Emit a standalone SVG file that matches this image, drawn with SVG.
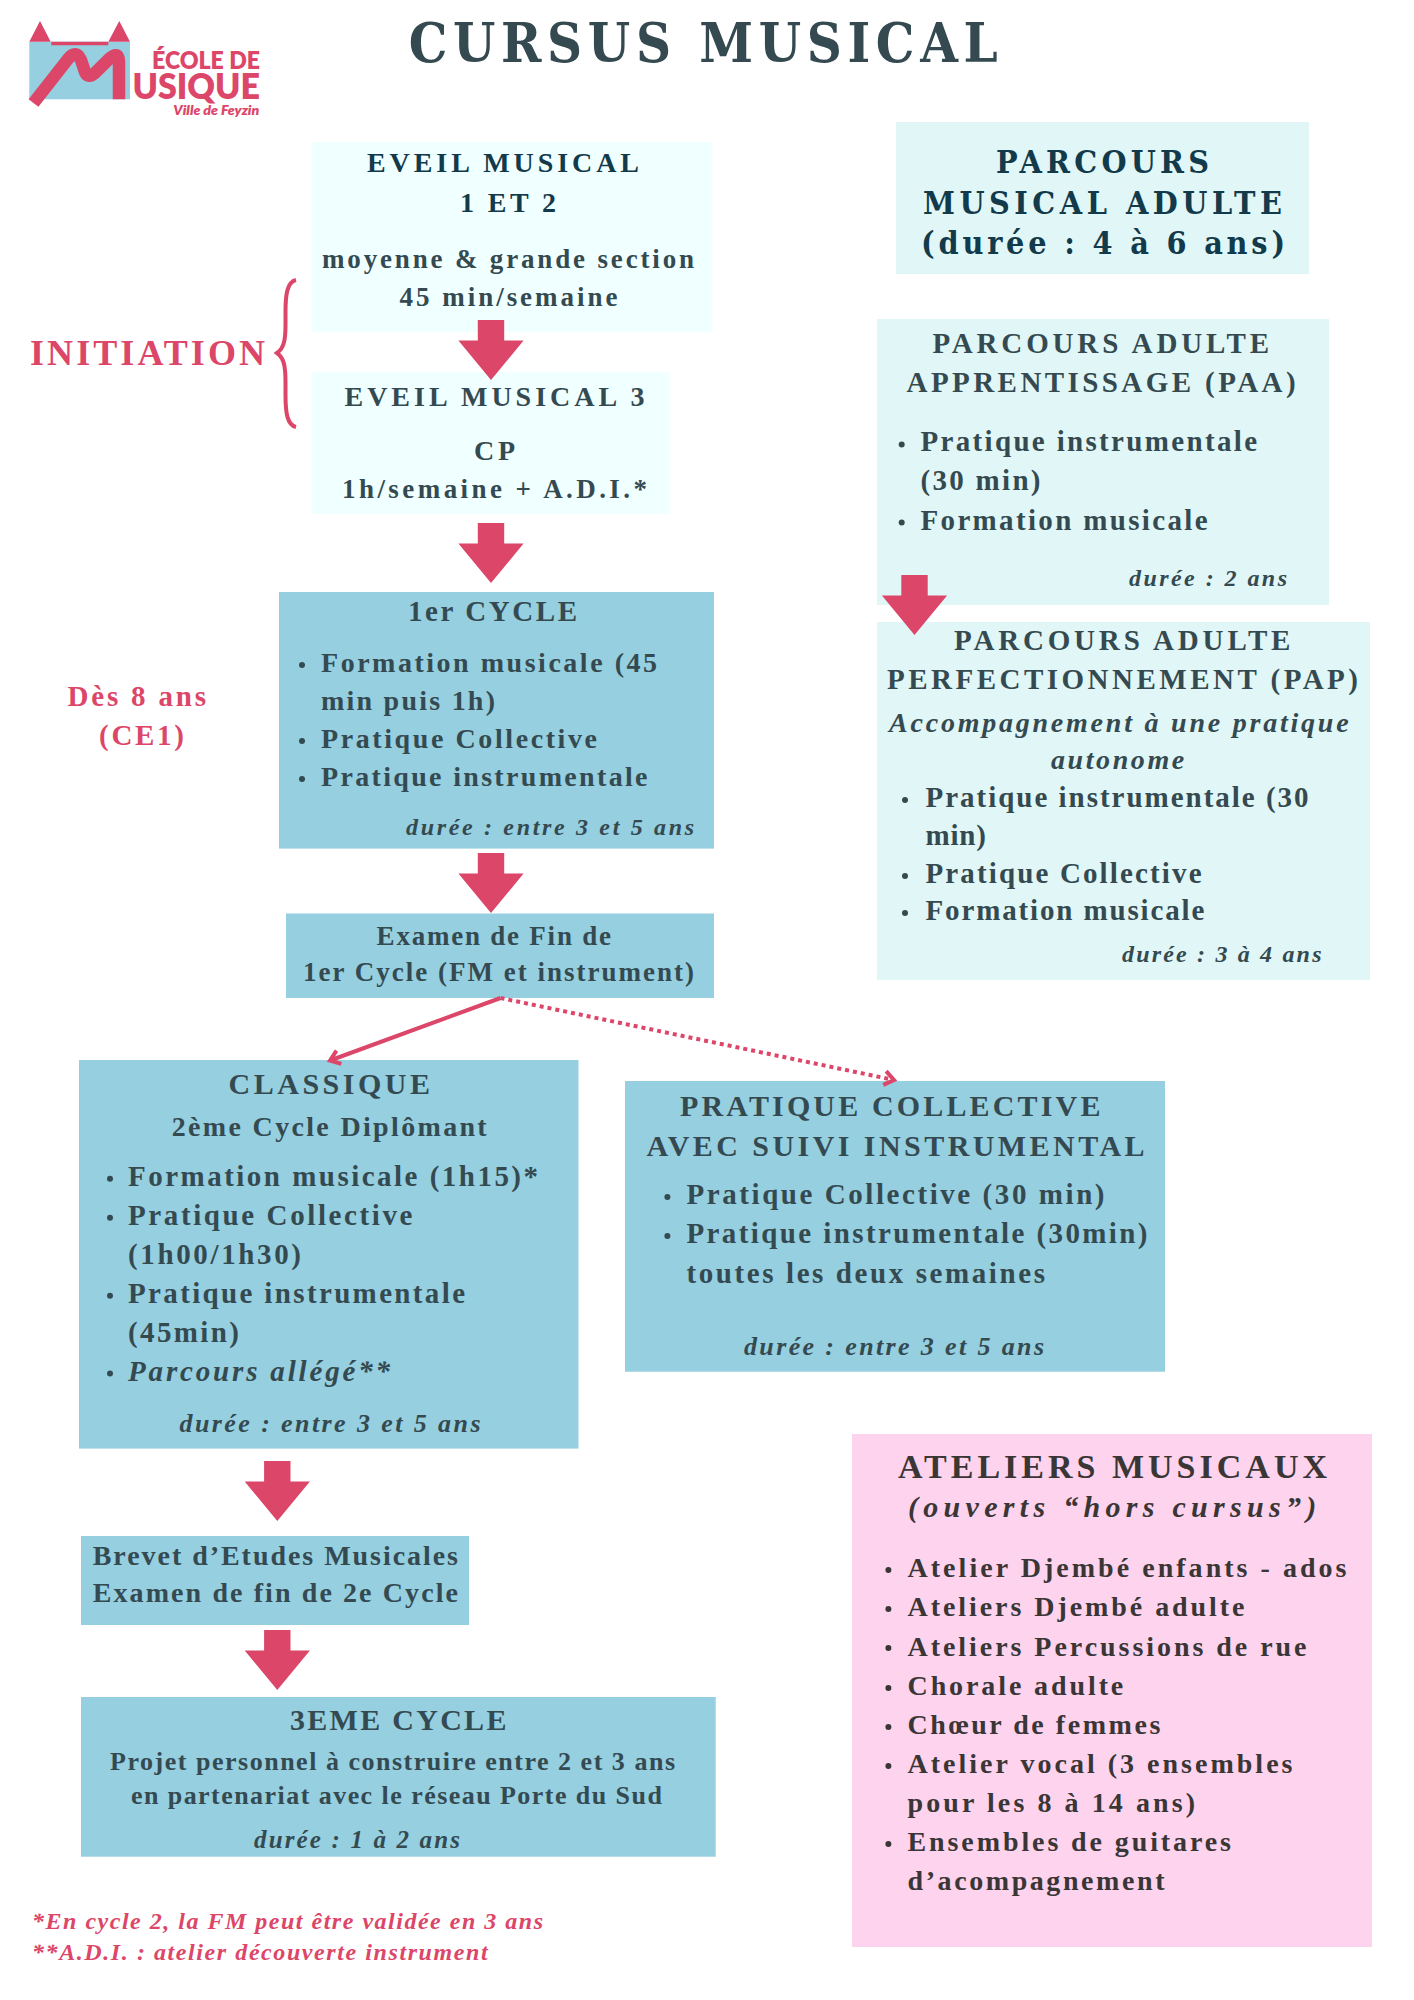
<svg xmlns="http://www.w3.org/2000/svg" width="1414" height="2000" viewBox="0 0 1414 2000">
<style>
text{font-family:"Liberation Serif","Times New Roman",serif;font-weight:700;fill:#344a50}
.noto{font-family:"DejaVu Serif Condensed","DejaVu Serif",serif}
.logo{font-family:"Lato","Open Sans",sans-serif;fill:#dc4668;font-weight:800}
.i{font-style:italic}
.pk{fill:#dc4668}
.dk{fill:#123a4b}
.gr{fill:#3a3636}
.s23{font-size:23px}.s24{font-size:24px}.s25{font-size:25px}.s26{font-size:26px}.s27{font-size:27px}.s28{font-size:28px}.s29{font-size:29px}.s30{font-size:30px}.s34{font-size:34px}
.blue{fill:#95cfe0}.pale{fill:#f0ffff}.mint{fill:#e1f6f6}.rose{fill:#fdd3ee}
.b{fill:#344a50}
.b2{fill:#3a3636}
.big{fill:#dc4668}
.ln{fill:none;stroke:#dc4668;stroke-width:4}
.tip{fill:none;stroke:#dc4668;stroke-width:4}
</style>
<defs>
<path id="bigArrow" d="M-13.2 0H13.2V20.6H32.6L0 60L-32.6 20.6H-13.2Z"/>
<marker id="openTip" markerUnits="userSpaceOnUse" markerWidth="24" markerHeight="24" refX="12" refY="12" orient="auto" overflow="visible">
<path class="tip" d="M2.5 5L12 12L2.5 19"/>
</marker>
</defs>
<rect width="1414" height="2000" fill="#fff"/>

<g id="logo">
<rect x="29.3" y="41.7" width="100.7" height="57.6" class="blue"/>
<path class="big" d="M29.3 41.7L40 21L50.7 41.7ZM108.3 41.7L119.3 21L130 41.7ZM51.3 41.7H108.3V45.3H51.3Z"/>
<path d="M33.5 103L68 59Q76 49 81 60L85 72Q88 79 95 73L109 59Q119 50 119 62V99.3" fill="none" stroke="#dc4668" stroke-width="12.5"/>
<text class="logo" x="152" y="69.3" font-size="24" textLength="108" lengthAdjust="spacingAndGlyphs">ÉCOLE DE</text>
<text class="logo" x="132.500" y="99.3" font-size="36" textLength="127.500" lengthAdjust="spacingAndGlyphs">USIQUE</text>
<text class="logo i" x="173.3" y="115" font-size="12.5" textLength="86" lengthAdjust="spacingAndGlyphs">Ville de Feyzin</text>
</g>

<g id="title"><text class="noto" x="408.7" y="62" font-size="54" textLength="589">CURSUS MUSICAL</text></g>

<g id="eveil-1-2">
<rect x="311.500" y="142" width="401" height="190" class="pale"/>
<text class="s28 dk" x="367" y="172" textLength="272">EVEIL MUSICAL</text>
<text class="s28 dk" x="460" y="211.5" textLength="96">1 ET 2</text>
<text class="s27" x="322" y="268" textLength="372">moyenne &amp; grande section</text>
<text class="s27" x="399.500" y="306" textLength="218">45 min/semaine</text>
</g>

<g id="eveil-3">
<rect x="311.500" y="372" width="358" height="142" class="pale"/>
<text class="s28" x="344.5" y="405.6" textLength="300">EVEIL MUSICAL 3</text>
<text class="s28" x="474" y="460" textLength="41">CP</text>
<text class="s27" x="342" y="497.6" textLength="305">1h/semaine + A.D.I.*</text>
</g>

<g id="initiation">
<text class="pk" font-size="36" x="30" y="365" textLength="235">INITIATION</text>
<path class="ln" d="M296 280C287 282 285.500 295 285.500 312V325C285.500 340 284 348 277 353C284 358 285.500 366 285.500 382V395C285.500 412 287 425 296 427"/>
</g>

<g id="des-8-ans">
<text class="pk s29" x="67.5" y="706" textLength="138.500">Dès 8 ans</text>
<text class="pk s29" x="99" y="745" textLength="85">(CE1)</text>
</g>

<g id="cycle-1">
<rect x="279" y="592" width="435" height="256.600" class="blue"/>
<text class="s29" x="408" y="620.7" textLength="169">1er CYCLE</text>
<circle class="b" cx="302" cy="665" r="3"/><text class="s28" x="321" y="672" textLength="336">Formation musicale (45</text>
<text class="s28" x="321" y="709.700" textLength="174">min puis 1h)</text>
<circle class="b" cx="302" cy="741" r="3"/><text class="s28" x="321" y="748" textLength="276">Pratique Collective</text>
<circle class="b" cx="302" cy="779" r="3"/><text class="s28" x="321" y="786" textLength="326.500">Pratique instrumentale</text>
<text class="s24 i" x="406" y="835" textLength="288">durée : entre 3 et 5 ans</text>
</g>

<g id="examen-1">
<rect x="286" y="913.500" width="428" height="84.500" class="blue"/>
<text class="s27" x="376.600" y="944.600" textLength="234.400">Examen de Fin de</text>
<text class="s27" x="303" y="981" textLength="391">1er Cycle (FM et instrument)</text>
</g>

<g id="classique">
<rect x="79" y="1060" width="499.500" height="388.600" class="blue"/>
<text class="s30" x="228.600" y="1093.600" textLength="201.400">CLASSIQUE</text>
<text class="s28" x="171.700" y="1135.600" textLength="315">2ème Cycle Diplômant</text>
<circle class="b" cx="110" cy="1178.700" r="3"/><text class="s29" x="128" y="1185.500" textLength="410">Formation musicale (1h15)*</text>
<circle class="b" cx="110" cy="1217.700" r="3"/><text class="s29" x="128" y="1225" textLength="284.400">Pratique Collective</text>
<text class="s29" x="128" y="1263.700" textLength="173">(1h00/1h30)</text>
<circle class="b" cx="110" cy="1295.700" r="3"/><text class="s29" x="128" y="1302.600" textLength="337">Pratique instrumentale</text>
<text class="s29" x="128" y="1341.500" textLength="111">(45min)</text>
<circle class="b" cx="110" cy="1373.500" r="3"/><text class="s29 i" x="128" y="1380.800" textLength="262">Parcours allégé**</text>
<text class="s26 i" x="179.500" y="1431.800" textLength="301">durée : entre 3 et 5 ans</text>
</g>

<g id="pratique-collective">
<rect x="625" y="1081" width="540" height="290.700" class="blue"/>
<text class="s30" x="680" y="1116" textLength="420.400">PRATIQUE COLLECTIVE</text>
<text class="s30" x="646.500" y="1156" textLength="498">AVEC SUIVI INSTRUMENTAL</text>
<circle class="b" cx="667.400" cy="1197" r="3"/><text class="s29" x="686.500" y="1204" textLength="418">Pratique Collective (30 min)</text>
<circle class="b" cx="667.400" cy="1236" r="3"/><text class="s29" x="686.500" y="1243" textLength="461">Pratique instrumentale (30min)</text>
<text class="s29" x="686.500" y="1283" textLength="358.500">toutes les deux semaines</text>
<text class="s26 i" x="744" y="1355" textLength="300">durée : entre 3 et 5 ans</text>
</g>

<g id="brevet">
<rect x="81" y="1536" width="388" height="89" class="blue"/>
<text class="s28" x="92.700" y="1565" textLength="365.300">Brevet d’Etudes Musicales</text>
<text class="s28" x="92.700" y="1601.700" textLength="365.300">Examen de fin de 2e Cycle</text>
</g>

<g id="cycle-3">
<rect x="81" y="1697" width="634.700" height="159.700" class="blue"/>
<text class="s30" x="290" y="1730" textLength="216.400">3EME CYCLE</text>
<text class="s26" x="110" y="1770" textLength="565">Projet personnel à construire entre 2 et 3 ans</text>
<text class="s26" x="130.900" y="1804" textLength="531">en partenariat avec le réseau Porte du Sud</text>
<text class="s25 i" x="254" y="1848.300" textLength="206">durée : 1 à 2 ans</text>
</g>

<g id="notes">
<text class="s24 i pk" x="32" y="1929" textLength="511">*En cycle 2, la FM peut être validée en 3 ans</text>
<text class="s24 i pk" x="32" y="1960" textLength="455.600">**A.D.I. : atelier découverte instrument</text>
</g>

<g id="parcours-adulte">
<rect x="896" y="122" width="413" height="152" class="mint"/>
<text class="noto dk" font-size="32" x="996" y="173" textLength="213">PARCOURS</text>
<text class="noto dk" font-size="32" x="923" y="213.600" textLength="359">MUSICAL ADULTE</text>
<text class="noto dk" font-size="32" x="921" y="253.600" textLength="364">(durée : 4 à 6 ans)</text>
</g>

<g id="paa">
<rect x="877" y="319" width="452" height="286" class="mint"/>
<text class="s29" x="932.400" y="352.500" textLength="336.600">PARCOURS ADULTE</text>
<text class="s29" x="906.600" y="392" textLength="389">APPRENTISSAGE (PAA)</text>
<circle class="b" cx="901.700" cy="444.600" r="3"/><text class="s29" x="920.500" y="451" textLength="336.500">Pratique instrumentale</text>
<text class="s29" x="920.500" y="490" textLength="120">(30 min)</text>
<circle class="b" cx="901.700" cy="522.500" r="3"/><text class="s29" x="920.500" y="530" textLength="287">Formation musicale</text>
<text class="s24 i" x="1129" y="585.700" textLength="158">durée : 2 ans</text>
</g>

<g id="pap">
<rect x="877" y="622" width="493" height="358" class="mint"/>
<text class="s29" x="954" y="650" textLength="336.400">PARCOURS ADULTE</text>
<text class="s29" x="887" y="689" textLength="471">PERFECTIONNEMENT (PAP)</text>
<text class="s28 i" x="889" y="732" textLength="459.600">Accompagnement à une pratique</text>
<text class="s28 i" x="1051" y="769" textLength="133.200">autonome</text>
<circle class="b" cx="905" cy="800" r="3"/><text class="s29" x="925.500" y="807.300" textLength="383">Pratique instrumentale (30</text>
<text class="s29" x="925.500" y="845" textLength="60.400">min)</text>
<circle class="b" cx="905" cy="876" r="3"/><text class="s29" x="925.500" y="883.300" textLength="276">Pratique Collective</text>
<circle class="b" cx="905" cy="913" r="3"/><text class="s29" x="925.500" y="920" textLength="278.800">Formation musicale</text>
<text class="s24 i" x="1122" y="962" textLength="199.500">durée : 3 à 4 ans</text>
</g>

<g id="ateliers">
<rect x="852" y="1434" width="520" height="513" class="rose"/>
<text class="s34 gr" x="898" y="1478" textLength="429">ATELIERS MUSICAUX</text>
<text class="s30 i gr" x="908" y="1517" textLength="408.200">(ouverts “hors cursus”)</text>
<circle class="b2" cx="888.400" cy="1570" r="3"/><text class="s28 gr" x="907.500" y="1577" textLength="439">Atelier Djembé enfants - ados</text>
<circle class="b2" cx="888.400" cy="1609" r="3"/><text class="s28 gr" x="907.500" y="1616" textLength="337">Ateliers Djembé adulte</text>
<circle class="b2" cx="888.400" cy="1648" r="3"/><text class="s28 gr" x="907.500" y="1655.500" textLength="399">Ateliers Percussions de rue</text>
<circle class="b2" cx="888.400" cy="1688" r="3"/><text class="s28 gr" x="907.500" y="1694.500" textLength="215.800">Chorale adulte</text>
<circle class="b2" cx="888.400" cy="1727" r="3"/><text class="s28 gr" x="907.500" y="1734" textLength="252.800">Chœur de femmes</text>
<circle class="b2" cx="888.400" cy="1766" r="3"/><text class="s28 gr" x="907.500" y="1773" textLength="385">Atelier vocal (3 ensembles</text>
<text class="s28 gr" x="907.500" y="1812" textLength="287.600">pour les 8 à 14 ans)</text>
<circle class="b2" cx="888.400" cy="1844" r="3"/><text class="s28 gr" x="907.500" y="1851" textLength="323.500">Ensembles de guitares</text>
<text class="s28 gr" x="907.500" y="1890" textLength="257">d’acompagnement</text>
</g>

<g id="connectors">
<use href="#bigArrow" class="big" x="491" y="320"/>
<use href="#bigArrow" class="big" x="491" y="523"/>
<use href="#bigArrow" class="big" x="491" y="853"/>
<use href="#bigArrow" class="big" x="277.300" y="1461"/>
<use href="#bigArrow" class="big" x="277.300" y="1630"/>
<use href="#bigArrow" class="big" x="914.500" y="575"/>
<path class="ln" d="M500.500 998L330 1060.500" marker-end="url(#openTip)"/>
<path class="ln" d="M500.500 998L894 1080" stroke-dasharray="4 4" marker-end="url(#openTip)"/>
</g>
</svg>
